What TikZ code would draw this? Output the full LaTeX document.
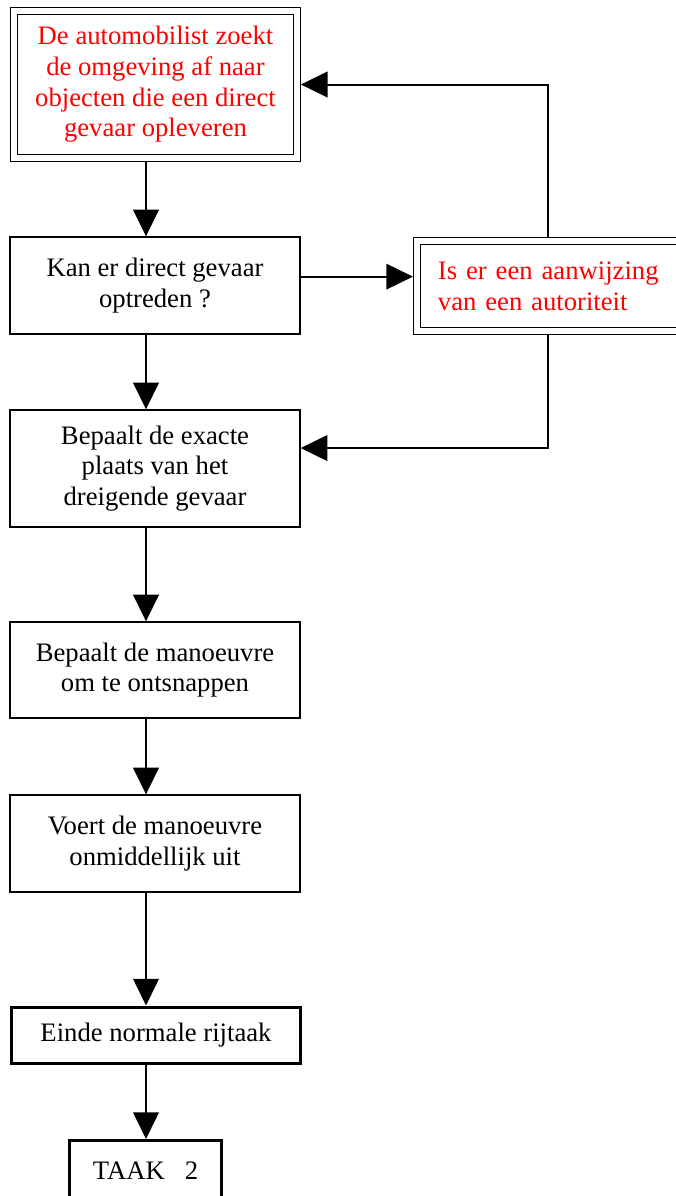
\documentclass[tikz,border=0pt]{standalone}
\usepackage{fontspec}
\setmainfont{Liberation Serif}
\usetikzlibrary{arrows.meta,positioning,calc}

\begin{document}
\begin{tikzpicture}[x=0.45pt,y=-0.45pt,
  font=\fontsize{12}{13.8}\selectfont,
  stap/.style={draw,line width=0.6pt,minimum width=130.5pt,align=center,inner sep=2pt},
  dubbel/.style={draw,double,line width=0.5pt,double distance=2.5pt,outer sep=1.75pt,text=red},
  eind/.style={draw,line width=1.35pt,align=center},
  pijl/.style={line width=0.9pt,-{Triangle[length=12pt,width=11.5pt]}}]
  % ===== Frame =====
  \useasboundingbox (0,0) rectangle (676,1196);
  \clip (0,0) rectangle (676,1196);
  \coordinate (spine) at (146,0);   % vertical arrows
  \coordinate (terug) at (548,0);   % feedback lines

  % --- Boxes ---
  \node[dubbel,minimum width=127.35pt,minimum height=66.15pt,align=center] (zoekt) at (155.5,84.5)
    {De automobilist zoekt\\de omgeving af naar\\objecten die een direct\\gevaar opleveren};
  \node[stap,minimum height=43.65pt] (kan) at (155,285.5) {Kan er direct gevaar\\optreden ?};
  \node[dubbel,minimum height=40.5pt,text width=108.5pt,align=left,inner xsep=9.5pt] (autor) at (558.5,286)
    {Is er een aanwijzing\\van een autoriteit};
  \node[stap,minimum height=52.65pt] (plaats) at (155,468.5) {Bepaalt de exacte\\plaats van het\\dreigende gevaar};
  \node[stap,minimum height=43.2pt] (manoeuvre) at (155,670) {Bepaalt de manoeuvre\\om te ontsnappen};
  \node[stap,minimum height=43.65pt] (voert) at (155,843.5) {Voert de manoeuvre\\onmiddellijk uit};
  \node[eind,minimum width=130pt,minimum height=25.2pt] (einde) at (156,1035) {Einde normale rijtaak};
  \node[eind,minimum width=68.4pt,minimum height=27pt] (taak) at (145.5,1170.5) {TAAK\ \ \ 2};

  % --- Main flow ---
  \draw[pijl] (zoekt.south -| spine) -- (kan.north -| spine);
  \draw[pijl] (kan.south -| spine) -- (plaats.north -| spine);
  \draw[pijl] (plaats.south -| spine) -- (manoeuvre.north -| spine);
  \draw[pijl] (manoeuvre.south -| spine) -- (voert.north -| spine);
  \draw[pijl] (voert.south -| spine) -- (einde.north -| spine);
  \draw[pijl] (einde.south -| spine) -- (taak.north -| spine);

  % --- Side branch ---
  \draw[pijl] ([yshift=4pt]kan.east) -- ([yshift=4pt]kan.east -| autor.west);
  \draw[pijl] (autor.north -| terug) |- (zoekt.east);
  \draw[pijl] (autor.south -| terug) |- ([yshift=9.2pt]plaats.east);
\end{tikzpicture}
\end{document}
